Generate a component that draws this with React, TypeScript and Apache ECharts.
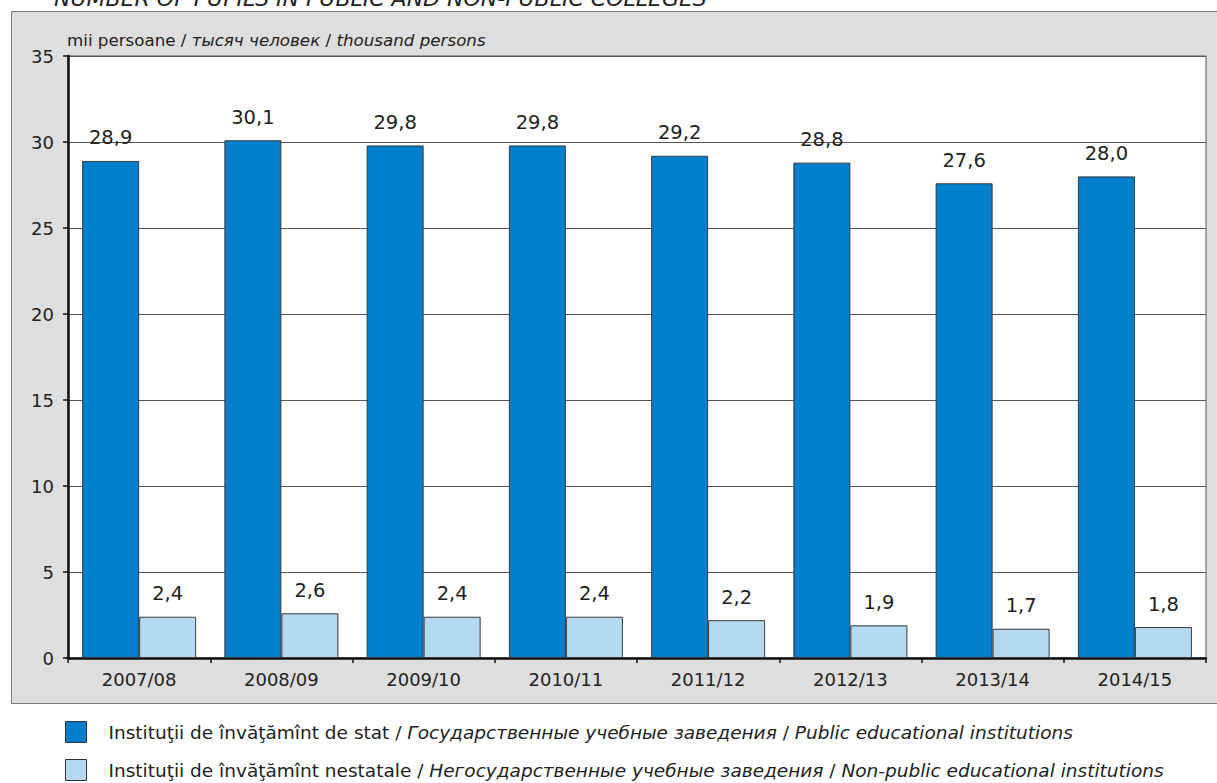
import React, { useEffect, useRef } from "react";
import * as echarts from "echarts";

const categories = ["2007/08", "2008/09", "2009/10", "2010/11", "2011/12", "2012/13", "2013/14", "2014/15"];
const publicValues = [28.9, 30.1, 29.8, 29.8, 29.2, 28.8, 27.6, 28.0];
const nonPublicValues = [2.4, 2.6, 2.4, 2.4, 2.2, 1.9, 1.7, 1.8];
const yTicks = [0, 5, 10, 15, 20, 25, 30, 35];

const FONT = "'DejaVu Sans', sans-serif";

export default function App() {
  const ref = useRef<HTMLDivElement>(null);
  useEffect(() => {
    if (!ref.current) return;
    const chart = echarts.init(ref.current, undefined, { renderer: "svg" });
    const fmt = (p: any) => Number(p.value).toFixed(1).replace(".", ",");
    const legendText = {
      rich: {
        sp: { width: 17, fontSize: 18.5, lineHeight: 20 },
        n: { fontSize: 18.5, fontFamily: FONT, color: "#222", lineHeight: 20 },
        i: { fontSize: 18.5, fontFamily: FONT, fontStyle: "italic", color: "#222", lineHeight: 20 },
      },
    };
    chart.setOption({
      animation: false,
      textStyle: { fontFamily: FONT },
      graphic: [
        {
          type: "rect",
          z: -10,
          shape: { x: 11.5, y: 11.5, width: 1220, height: 692 },
          style: { fill: "#dedede", stroke: "#7a7a7a", lineWidth: 1 },
        },
        {
          type: "text",
          x: 54,
          y: 9,
          style: {
            text: "NUMBER OF PUPILS IN PUBLIC AND NON-PUBLIC COLLEGES",
            font: `italic 22px ${FONT}`,
            fill: "#222",
            textVerticalAlign: "bottom",
          },
        },
        {
          type: "text",
          x: 67,
          y: 40,
          style: {
            text: "{n|mii persoane / }{i|тысяч человек}{n| / }{i|thousand persons}",
            textVerticalAlign: "middle",
            rich: {
              n: { font: `16.7px ${FONT}`, fill: "#222" },
              i: { font: `italic 16.7px ${FONT}`, fill: "#222" },
            },
          },
        },
      ],
      legend: [
        {
          left: 65,
          top: 721,
          padding: 0,
          itemWidth: 21,
          itemHeight: 21,
          icon: "rect",
          itemStyle: { borderColor: "#333", borderWidth: 1 },
          data: ["pub"],
          formatter: () =>
            "{sp| }{n|Instituţii de învăţămînt de stat / }{i|Государственные учебные заведения}{n| / }{i|Public educational institutions}",
          textStyle: legendText,
        },
        {
          left: 65,
          top: 759,
          padding: 0,
          itemWidth: 21,
          itemHeight: 21,
          icon: "rect",
          itemStyle: { borderColor: "#333", borderWidth: 1 },
          data: ["nonpub"],
          formatter: () =>
            "{sp| }{n|Instituţii de învăţămînt nestatale / }{i|Негосударственные учебные заведения}{n| / }{i|Non-public educational institutions}",
          textStyle: legendText,
        },
      ],
      grid: {
        left: 68,
        right: 11,
        top: 56,
        bottom: 125,
        show: true,
        backgroundColor: "#ffffff",
        borderColor: "#555",
        borderWidth: 1,
      },
      xAxis: {
        type: "category",
        data: categories,
        axisLine: { lineStyle: { color: "#111", width: 2.5 } },
        axisTick: { show: true, length: 5, lineStyle: { color: "#111", width: 1.5 } },
        axisLabel: { fontSize: 18, color: "#222", margin: 12, fontFamily: FONT },
      },
      yAxis: {
        type: "value",
        min: 0,
        max: 35,
        interval: 5,
        axisLine: { show: true, lineStyle: { color: "#111", width: 2.5 } },
        axisTick: { show: true, length: 5, lineStyle: { color: "#111", width: 1.5 } },
        axisLabel: {
          fontSize: 18,
          color: "#222",
          margin: 14,
          fontFamily: FONT,
          formatter: (v: number) => (yTicks.includes(v) ? String(v) : ""),
        },
        splitLine: { show: true, lineStyle: { color: "#555", width: 1 } },
      },
      series: [
        {
          name: "pub",
          type: "bar",
          data: publicValues,
          barWidth: 57,
          barGap: "0%",
          itemStyle: { color: "#0080cc", borderColor: "#3a3a3a", borderWidth: 1 },
          label: { show: true, position: "top", distance: 13, fontSize: 19.5, color: "#222", fontFamily: FONT, formatter: fmt },
        },
        {
          name: "nonpub",
          type: "bar",
          data: nonPublicValues,
          barWidth: 57,
          barGap: "0%",
          itemStyle: { color: "#b4d9f0", borderColor: "#3a3a3a", borderWidth: 1 },
          label: { show: true, position: "top", distance: 13, fontSize: 19.5, color: "#222", fontFamily: FONT, formatter: fmt },
        },
      ],
    });
    return () => chart.dispose();
  }, []);
  return <div ref={ref} style={{ width: 1217, height: 783, position: "absolute", left: 0, top: 0 }} />;
}
